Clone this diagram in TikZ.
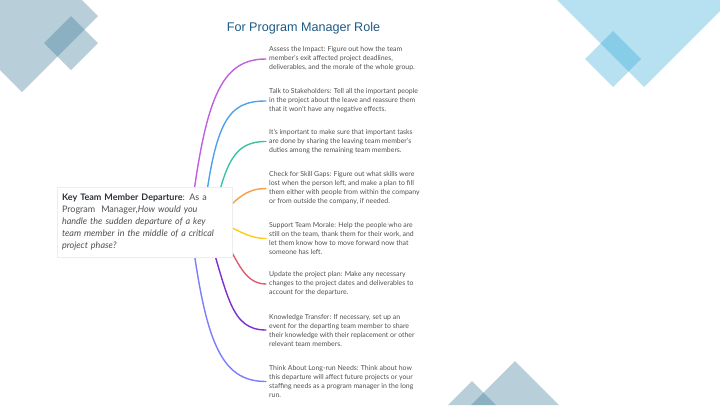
\documentclass[tikz,border=0pt]{standalone}
\usepackage{fontspec}
\setmainfont{Lato}
\newfontfamily\titlefont{Liberation Sans}
\definecolor{deco}{RGB}{52,118,149}
\definecolor{decob}{RGB}{37,164,213}
\definecolor{titlec}{RGB}{30,90,132}
\definecolor{txt}{RGB}{80,80,80}
\definecolor{darktxt}{RGB}{45,50,60}
\definecolor{ca}{RGB}{192,96,224}
\definecolor{cb}{RGB}{80,160,240}
\definecolor{cc}{RGB}{60,195,165}
\definecolor{cd}{RGB}{245,160,70}
\definecolor{ce}{RGB}{255,204,20}
\definecolor{cf}{RGB}{225,90,110}
\definecolor{cg}{RGB}{125,45,210}
\definecolor{ch}{RGB}{125,125,255}
\begin{document}
\begin{tikzpicture}[x=1pt,y=-1pt,
  leaf/.style={anchor=west, align=left, font=\fontsize{6.9}{9}\selectfont, text=txt, inner ysep=0pt, inner xsep=3pt},
  branch/.style={line width=1.4pt, line cap=round},
  decoA/.style={fill=deco, fill opacity=0.35, draw=none},
  decoB/.style={fill=decob, fill opacity=0.33, draw=none},
  rootbox/.style={draw=black!7, fill=white, minimum width=175pt, minimum height=70pt, inner xsep=5pt, text width=165pt, align=left, text=txt, font=\fontsize{9}{11.8}\selectfont},
  titlestyle/.style={font=\titlefont\fontsize{12.6}{14}\selectfont, text=titlec}]
\path[use as bounding box] (0,0) rectangle (720,405);
\clip (0,0) rectangle (720,405);
% decorations
\path[decoA] (22,-60) -- (98,16) -- (22,92) -- (-54,16) -- cycle;
\path[decoA] (71,16) -- (98,43) -- (71,70) -- (44,43) -- cycle;
\path[decoB] (644,-93) -- (734,-3) -- (644,87) -- (554,-3) -- cycle;
\path[decoB] (613,31) -- (641,59) -- (613,87) -- (585,59) -- cycle;
\path[decoA] (515,361) -- (559,405) -- (471,405) -- cycle;
\path[decoA] (472,381) -- (496,405) -- (448,405) -- cycle;
% title
\node[titlestyle] (title) at (303.5,28) {For Program Manager Role};
% leaves
\node[leaf] (l1) at (266,59) {Assess the Impact: Figure out how the team\\member's exit affected project deadlines,\\deliverables, and the morale of the whole group.};
\node[leaf] (l2) at (266,101) {Talk to Stakeholders: Tell all the important people\\in the project about the leave and reassure them\\that it won't have any negative effects.};
\node[leaf] (l3) at (266,141.5) {It's important to make sure that important tasks\\are done by sharing the leaving team member's\\duties among the remaining team members.};
\node[leaf] (l4) at (266,188.5) {Check for Skill Gaps: Figure out what skills were\\lost when the person left, and make a plan to fill\\them either with people from within the company\\or from outside the company, if needed.};
\node[leaf] (l5) at (266,238.5) {Support Team Morale: Help the people who are\\still on the team, thank them for their work, and\\let them know how to move forward now that\\someone has left.};
\node[leaf] (l6) at (266,284) {Update the project plan: Make any necessary\\changes to the project dates and deliverables to\\account for the departure.};
\node[leaf] (l7) at (266,330) {Knowledge Transfer: If necessary, set up an\\event for the departing team member to share\\their knowledge with their replacement or other\\relevant team members.};
\node[leaf] (l8) at (266,381.5) {Think About Long-run Needs: Think about how\\this departure will affect future projects or your\\staffing needs as a program manager in the long\\run.};
% branch start points (under the root box)
\coordinate (s1) at (190,222);
\coordinate (s2) at (203,222);
\coordinate (s3) at (212,225);
\coordinate (s4) at (215,222);
\coordinate (s5) at (215,222);
\coordinate (s6) at (220,232);
\coordinate (s7) at (205,222);
\coordinate (s8) at (190,222);
\draw[branch, ca] (s1) .. controls (205,100) and (220,59) .. (l1.west);
\draw[branch, cb] (s2) .. controls (215,120) and (228,101) .. (l2.west);
\draw[branch, cc] (s3) .. controls (225,160) and (235,141.5) .. (l3.west);
\draw[branch, cd] (s4) .. controls (235,200) and (245,188.5) .. (l4.west);
\draw[branch, ce] (s5) .. controls (235,226) and (245,238.5) .. (l5.west);
\draw[branch, cf] (s6) .. controls (236,255) and (242,284) .. (l6.west);
\draw[branch, cg] (s7) .. controls (228,295) and (230,330) .. (l7.west);
\draw[branch, ch] (s8) .. controls (205,341) and (220,381.5) .. (l8.west);
% root
\node[rootbox] (root) at (144.5,222) {{\color{darktxt}\bfseries Key Team Member Departure}: As a\\Program\ \ Manager,\textit{How would you}\\\textit{handle the sudden departure of a key}\\\textit{team member in the middle of a critical}\\\textit{project phase?}};
\end{tikzpicture}
\end{document}
